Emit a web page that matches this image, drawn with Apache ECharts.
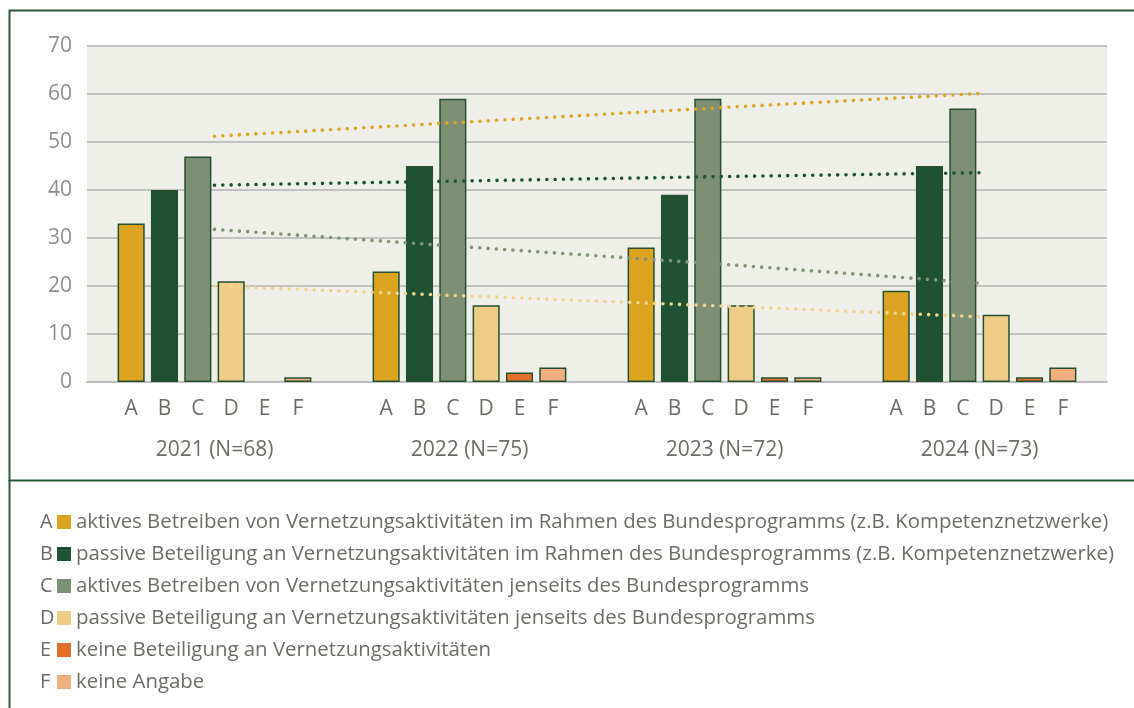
<!DOCTYPE html>
<html>
<head>
<meta charset="utf-8">
<script src="https://cdn.jsdelivr.net/npm/echarts@6/dist/echarts.min.js"></script>
<style>
  html, body { margin: 0; padding: 0; background: #fff; }
  #chart { width: 1134px; height: 708px; }
</style>
</head>
<body>
<div id="chart"></div>
<script>
const years = ['2021 (N=68)', '2022 (N=75)', '2023 (N=72)', '2024 (N=73)']
const letters = ['A', 'B', 'C', 'D', 'E', 'F']
const names = [
  'aktives Betreiben von Vernetzungsaktivitäten im Rahmen des Bundesprogramms (z.B. Kompetenznetzwerke)',
  'passive Beteiligung an Vernetzungsaktivitäten im Rahmen des Bundesprogramms (z.B. Kompetenznetzwerke)',
  'aktives Betreiben von Vernetzungsaktivitäten jenseits des Bundesprogramms',
  'passive Beteiligung an Vernetzungsaktivitäten jenseits des Bundesprogramms',
  'keine Beteiligung an Vernetzungsaktivitäten',
  'keine Angabe',
]
const valuesA = [33, 23, 28, 19]
const valuesB = [40, 45, 39, 45]
const valuesC = [47, 59, 59, 57]
const valuesD = [21, 16, 16, 14]
const valuesE = [0, 2, 1, 1]
const valuesF = [1, 3, 1, 3]

// dotted trend lines at the group centres
const trendGold = [51.2, 54.2, 57.2, 60.1]
const trendDark = [41.0, 41.9, 42.8, 43.6]
const trendSage = [31.8, 28.1, 24.5, 20.6]
const trendSand = [20.0, 17.9, 15.8, 13.6]

const barColors = ['#DDA421', '#1F5133', '#7D8F74', '#EDCD85', '#E3702A', '#F0AF7E']
const font = 'Open Sans'
const textGrey = '#6d6d66'

const chart = echarts.init(document.getElementById('chart'))

const barValues = [valuesA, valuesB, valuesC, valuesD, valuesE, valuesF]
const barSeries = barValues.map((vals, i) => ({
  name: names[i],
  type: 'bar',
  // a zero bar has no outline in the original
  data: vals.map((v) => (v === 0 ? { value: v, itemStyle: { borderWidth: 0 } } : v)),
  barGap: '23%',
  barCategoryGap: '24%',
  itemStyle: { color: barColors[i], borderColor: '#24502f', borderWidth: 1.5 },
  label: {
    show: true,
    position: 'bottom',
    distance: 17,
    formatter: () => letters[i],
    color: textGrey,
    fontFamily: font,
    fontSize: 21,
  },
}))

function trend(data, color) {
  return {
    type: 'line',
    data: data,
    showSymbol: false,
    silent: true,
    z: 5,
    lineStyle: { color: color, width: 3.6, type: [0.01, 8.3], cap: 'round' },
  }
}

const legendTop = 512
const legendStep = 32

chart.setOption({
  animation: false,
  graphic: [
    {
      type: 'rect',
      shape: { x: 9.5, y: 10.5, width: 1140, height: 470 },
      style: { fill: 'none', stroke: '#2b5a3a', lineWidth: 2 },
      z: -1,
    },
    {
      type: 'line',
      shape: { x1: 9.5, y1: 480, x2: 9.5, y2: 720 },
      style: { stroke: '#2b5a3a', lineWidth: 2 },
      z: -1,
    },
    ...letters.map((l, i) => ({
      type: 'text',
      x: 40,
      y: legendTop + 10 + i * legendStep,
      style: {
        text: l,
        fill: textGrey,
        font: `20px "${font}"`,
        verticalAlign: 'middle',
      },
    })),
  ],
  legend: {
    data: names,
    orient: 'vertical',
    left: 57,
    top: legendTop,
    padding: 0,
    itemWidth: 14,
    itemHeight: 14,
    itemGap: 12,
    icon: 'rect',
    selectedMode: false,
    textStyle: { color: textGrey, fontFamily: font, fontSize: 20.4, lineHeight: 20 },
    itemStyle: { borderWidth: 0 },
  },
  grid: {
    left: 87,
    right: 27,
    top: 46,
    bottom: 326,
    show: true,
    backgroundColor: '#EFEFEA',
    borderWidth: 0,
  },
  xAxis: {
    type: 'category',
    data: years,
    axisLine: { show: true, lineStyle: { color: '#bdbdbd', width: 2 } },
    axisTick: { show: false },
    axisLabel: { color: textGrey, fontFamily: font, fontSize: 21, margin: 58 },
  },
  yAxis: {
    type: 'value',
    min: 0,
    max: 70,
    interval: 10,
    axisLine: { show: false },
    axisTick: { show: false },
    splitLine: { lineStyle: { color: '#c2c2c2', width: 2 } },
    axisLabel: { color: '#8f8f8f', fontFamily: font, fontSize: 21, margin: 15 },
  },
  series: [
    ...barSeries,
    trend(trendGold, '#DDA521'),
    trend(trendDark, '#1F5133'),
    trend(trendSage, '#829477'),
    trend(trendSand, '#F0D38F'),
  ],
})
</script>
</body>
</html>
